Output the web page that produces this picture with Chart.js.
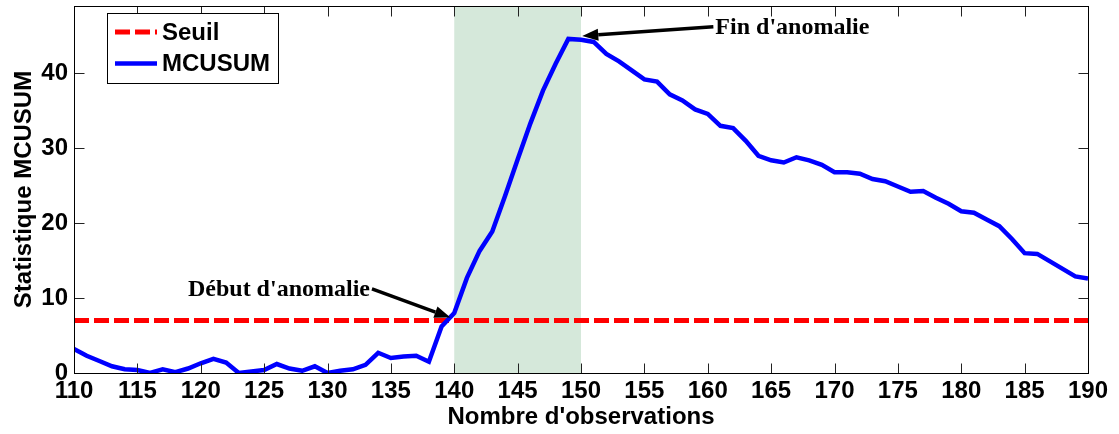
<!DOCTYPE html>
<html>
<head>
<meta charset="utf-8">
<script src="https://cdn.jsdelivr.net/npm/chart.js@4.4.1/dist/chart.umd.min.js"></script>
<style>
  html, body { margin: 0; padding: 0; background: #fff; }
  #wrap { width: 1119px; height: 434px; }
</style>
</head>
<body>
<div id="wrap"><canvas id="out" width="1119" height="434"></canvas></div>
<script>
const observations = [110, 111, 112, 113, 114, 115, 116, 117, 118, 119,
  120, 121, 122, 123, 124, 125, 126, 127, 128, 129,
  130, 131, 132, 133, 134, 135, 136, 137, 138, 139,
  140, 141, 142, 143, 144, 145, 146, 147, 148, 149,
  150, 151, 152, 153, 154, 155, 156, 157, 158, 159,
  160, 161, 162, 163, 164, 165, 166, 167, 168, 169,
  170, 171, 172, 173, 174, 175, 176, 177, 178, 179,
  180, 181, 182, 183, 184, 185, 186, 187, 188, 189, 190];
const mcusum = [3.2, 2.3, 1.6, 0.9, 0.5, 0.4, 0.0, 0.5, 0.1, 0.6,
  1.3, 1.9, 1.4, 0.0, 0.2, 0.4, 1.2, 0.6, 0.3, 0.9,
  0.0, 0.3, 0.5, 1.1, 2.7, 2.0, 2.2, 2.3, 1.5, 6.2,
  8.0, 12.7, 16.3, 18.9, 23.6, 28.5, 33.3, 37.7, 41.3, 44.6,
  44.5, 44.2, 42.6, 41.6, 40.4, 39.2, 38.9, 37.2, 36.4, 35.2,
  34.6, 33.0, 32.7, 31.0, 29.0, 28.4, 28.1, 28.8, 28.4, 27.8,
  26.8, 26.8, 26.6, 25.9, 25.6, 24.9, 24.2, 24.3, 23.4, 22.6,
  21.6, 21.4, 20.5, 19.6, 17.9, 16.0, 15.9, 14.9, 13.9, 12.9, 12.6];
const seuilX = [110, 190];
const seuilY = [7, 7];
const anomalyRange = [140, 150];
const xTicks = [110, 115, 120, 125, 130, 135, 140, 145, 150, 155, 160, 165, 170, 175, 180, 185, 190];
const yTicks = [0, 10, 20, 30, 40];
// annotation text anchor and arrow tip, in data units
const notes = [
  { text: "Début d'anomalie", align: "right", tx: 133.35, ty: 11.1, ax: 139.7, ay: 7.4 },
  { text: "Fin d'anomalie", align: "left", tx: 160.6, ty: 46.1, ax: 150.1, ay: 45.0 }
];

const sansBold = "bold 24px 'Liberation Sans', Arial, sans-serif";
const serifBold = "bold 24px 'Liberation Serif', 'Times New Roman', serif";

const shadePlugin = {
  id: "shade",
  beforeDatasetsDraw(chart) {
    const { ctx, chartArea, scales } = chart;
    const x0 = scales.x.getPixelForValue(anomalyRange[0]);
    const x1 = scales.x.getPixelForValue(anomalyRange[1]);
    ctx.save();
    ctx.fillStyle = "#d5e8da";
    ctx.fillRect(x0, chartArea.top, x1 - x0, chartArea.bottom - chartArea.top);
    ctx.restore();
  }
};

const framePlugin = {
  id: "frame",
  afterDraw(chart) {
    const { ctx, chartArea, scales } = chart;
    const l = Math.round(chartArea.left) + 0.5, r = Math.round(chartArea.right) + 0.5;
    const t = Math.round(chartArea.top) + 0.5, b = Math.round(chartArea.bottom) + 0.5;
    ctx.save();
    ctx.strokeStyle = "#222";
    ctx.lineWidth = 1;
    ctx.beginPath();
    xTicks.forEach(v => {
      const px = Math.round(scales.x.getPixelForValue(v)) + 0.5;
      ctx.moveTo(px, b); ctx.lineTo(px, b - 10);
      ctx.moveTo(px, t); ctx.lineTo(px, t + 10);
    });
    yTicks.forEach(v => {
      const py = Math.round(scales.y.getPixelForValue(v)) + 0.5;
      ctx.moveTo(l, py); ctx.lineTo(l + 10, py);
      ctx.moveTo(r, py); ctx.lineTo(r - 10, py);
    });
    ctx.stroke();
    ctx.strokeStyle = "#000";
    ctx.strokeRect(l, t, r - l, b - t);

    // annotations with arrows
    ctx.font = serifBold;
    ctx.fillStyle = "#000";
    ctx.textBaseline = "middle";
    notes.forEach(n => {
      const tx = scales.x.getPixelForValue(n.tx), ty = scales.y.getPixelForValue(n.ty);
      const ax = scales.x.getPixelForValue(n.ax), ay = scales.y.getPixelForValue(n.ay);
      ctx.textAlign = n.align;
      ctx.fillText(n.text, tx, ty);
      const sx = n.align === "right" ? tx + 2 : tx - 2;
      const sy = ty - 1;
      const ang = Math.atan2(ay - sy, ax - sx);
      const hl = 16, hw = 6;
      const bx = ax - hl * Math.cos(ang), by = ay - hl * Math.sin(ang);
      ctx.strokeStyle = "#000";
      ctx.lineWidth = 3.5;
      ctx.beginPath();
      ctx.moveTo(sx, sy); ctx.lineTo(bx, by);
      ctx.stroke();
      ctx.beginPath();
      ctx.moveTo(ax, ay);
      ctx.lineTo(bx + hw * Math.sin(ang), by - hw * Math.cos(ang));
      ctx.lineTo(bx - hw * Math.sin(ang), by + hw * Math.cos(ang));
      ctx.closePath();
      ctx.fill();
    });

    // legend box
    const lx = chartArea.left + 33, ly = chartArea.top + 7;
    ctx.fillStyle = "#fff";
    ctx.fillRect(lx, ly, 171, 70);
    ctx.strokeStyle = "#000";
    ctx.lineWidth = 1;
    ctx.strokeRect(Math.round(lx) + 0.5, Math.round(ly) + 0.5, 171, 70);
    ctx.font = sansBold;
    ctx.textAlign = "left";
    ctx.fillStyle = "#000";
    chart.data.datasets.forEach((ds, i) => {
      const yy = ly + 19 + i * 31.5;
      ctx.strokeStyle = ds.borderColor;
      ctx.lineWidth = ds.borderWidth;
      ctx.setLineDash(ds.borderDash || []);
      ctx.beginPath();
      ctx.moveTo(lx + 8, yy); ctx.lineTo(lx + 50, yy);
      ctx.stroke();
      ctx.setLineDash([]);
      ctx.fillText(ds.label, lx + 55, yy + 1);
    });
    ctx.restore();
  }
};

const chartConfig = {
  type: "line",
  data: {
    datasets: [
      {
        label: "Seuil",
        data: seuilX.map((x, i) => ({ x: x, y: seuilY[i] })),
        borderColor: "#ff0000",
        borderWidth: 5,
        borderDash: [15, 5],
        pointRadius: 0,
        order: 1
      },
      {
        label: "MCUSUM",
        data: observations.map((x, i) => ({ x: x, y: mcusum[i] })),
        borderColor: "#0000ff",
        borderWidth: 4.5,
        pointRadius: 0,
        tension: 0,
        order: 0
      }
    ]
  },
  options: {
    responsive: false,
    animation: false,
    layout: { padding: { top: 6, right: 31, left: 0, bottom: 0 } },
    plugins: { legend: { display: false }, tooltip: { enabled: false } },
    scales: {
      x: {
        type: "linear",
        min: 110,
        max: 190,
        afterBuildTicks: s => { s.ticks = xTicks.map(v => ({ value: v })); },
        afterFit: s => { s.height = 61; s.paddingLeft = 0; s.paddingRight = 0; },
        grid: { display: false, drawTicks: false },
        border: { display: false },
        ticks: { color: "#000", font: { family: "'Liberation Sans', Arial, sans-serif", size: 24, weight: "bold" }, padding: 4, maxRotation: 0, autoSkip: false },
        title: { display: true, text: "Nombre d'observations", color: "#000", font: { family: "'Liberation Sans', Arial, sans-serif", size: 24, weight: "bold" }, padding: { top: 0, bottom: 2 } }
      },
      y: {
        type: "linear",
        min: 0,
        max: 49,
        afterBuildTicks: s => { s.ticks = yTicks.map(v => ({ value: v })); },
        afterFit: s => { s.width = 74; s.paddingTop = 0; s.paddingBottom = 0; },
        grid: { display: false, drawTicks: false },
        border: { display: false },
        ticks: { color: "#000", font: { family: "'Liberation Sans', Arial, sans-serif", size: 24, weight: "bold" }, padding: 6 },
        title: { display: true, text: "Statistique MCUSUM", color: "#000", font: { family: "'Liberation Sans', Arial, sans-serif", size: 24, weight: "bold" }, padding: { top: 10, bottom: 0 } }
      }
    }
  },
  plugins: [shadePlugin, framePlugin]
};

window.chart = new Chart(document.getElementById("out").getContext("2d"), chartConfig);
</script>
</body>
</html>
